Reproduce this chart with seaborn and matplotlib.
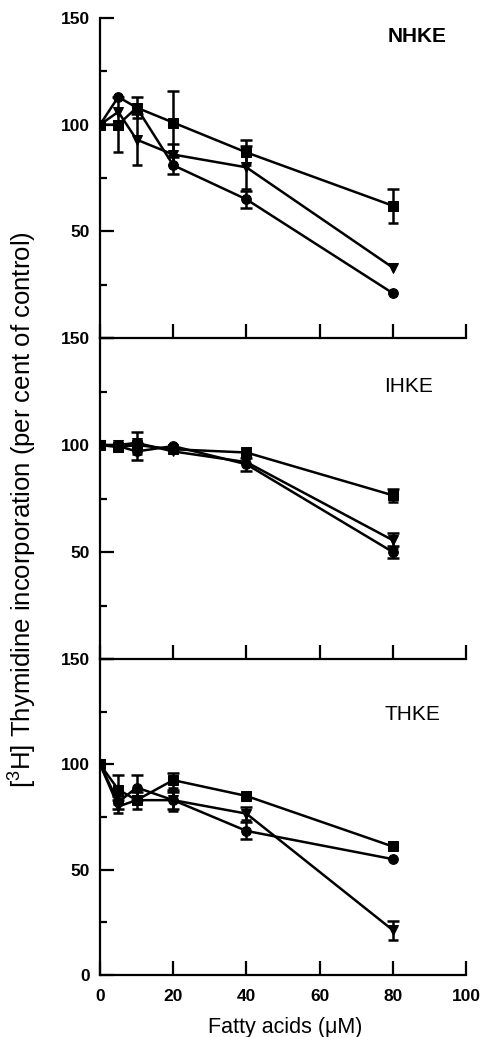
import numpy as np
import pandas as pd
import matplotlib
matplotlib.use("Agg")
import matplotlib.pyplot as plt
import seaborn as sns

# ---------------- data ----------------
conc = [0, 5, 10, 20, 40, 80]
panels = ["NHKE", "IHKE", "THKE"]
series_names = ["square", "tri", "circle"]

nhke_square = [100, 100, 108, 101, 87, 62]
nhke_square_err = [0, 13, 5, 15, 6, 8]
nhke_tri = [100, 106, 93, 86, 80, 33]
nhke_tri_err = [0, 0, 12, 5, 10, 0]
nhke_circle = [100, 113, 108, 81, 65, 21]
nhke_circle_err = [0, 0, 0, 4, 4, 0]

ihke_square = [100, 99, 100, 98, 96.5, 76.5]
ihke_square_err = [0, 0, 0, 0, 0, 3]
ihke_tri = [100, 100, 101, 97, 92, 55.5]
ihke_tri_err = [0, 0, 5, 0, 0, 3.5]
ihke_circle = [100, 99.5, 97, 99.5, 91, 50]
ihke_circle_err = [0, 0, 4, 0, 3, 3]

thke_square = [100, 88, 83, 92.5, 85, 61]
thke_square_err = [0, 7, 0, 3.5, 0, 0]
thke_tri = [100, 80, 83, 83, 76.6, 21.3]
thke_tri_err = [0, 3, 4, 5, 3, 4.5]
thke_circle = [100, 82, 89, 83, 68.4, 55]
thke_circle_err = [0, 3, 6, 4, 4, 0]

xticks = [0, 20, 40, 60, 80, 100]
yticks_major = [0, 50, 100, 150]
yticks_minor = [25, 75, 125]
ylabel = "[$^{3}$H] Thymidine incorporation (per cent of control)"
xlabel = "Fatty acids (\u03bcM)"

data = {
    "NHKE": [(nhke_square, nhke_square_err), (nhke_tri, nhke_tri_err), (nhke_circle, nhke_circle_err)],
    "IHKE": [(ihke_square, ihke_square_err), (ihke_tri, ihke_tri_err), (ihke_circle, ihke_circle_err)],
    "THKE": [(thke_square, thke_square_err), (thke_tri, thke_tri_err), (thke_circle, thke_circle_err)],
}

# ---------------- style ----------------
sns.set_theme(style="ticks")
plt.rcParams["font.family"] = ["Liberation Sans", "DejaVu Sans"]
plt.rcParams["text.color"] = "black"
plt.rcParams["mathtext.fontset"] = "custom"
plt.rcParams["mathtext.rm"] = "Liberation Sans"

W, H = 481, 1037
fig = plt.figure(figsize=(W / 100, H / 100), dpi=100)

left = 100 / W
right = 466 / W
bounds = [(18, 338), (338, 659), (659, 975)]
markers = {"square": "s", "tri": "v", "circle": "o"}
msizes = {"square": 6.5, "tri": 8.5, "circle": 7.5}

for i, (name, (ytop, ybot)) in enumerate(zip(panels, bounds)):
    ax = fig.add_axes([left, 1 - ybot / H, right - left, (ybot - ytop) / H])
    ax.set_facecolor("none")
    rows = []
    for sname, (vals, errs) in zip(series_names, data[name]):
        for x, v, e in zip(conc, vals, errs):
            rows.append({"x": x, "y": v, "err": e, "series": sname})
    df = pd.DataFrame(rows)
    for sname in series_names:
        d = df[(df.series == sname) & (df.err > 0)]
        ax.errorbar(d.x, d.y, yerr=d.err, fmt="none", ecolor="black",
                    elinewidth=1.8, capsize=4, capthick=1.8, zorder=2)
    sns.lineplot(data=df, x="x", y="y", hue="series", style="series",
                 markers=markers, dashes=False, palette=["black"] * 3,
                 linewidth=1.8, markersize=7, markeredgecolor="black",
                 legend=False, ax=ax, zorder=3)
    for line, sname in zip(ax.get_lines(), series_names):
        line.set_markersize(msizes[sname])
        line.set_clip_on(False)

    ax.set_xlim(0, 100)
    ax.set_ylim(0, 150)
    ax.set_xticks(xticks)
    ax.set_yticks(yticks_major)
    ax.set_yticks(yticks_minor, minor=True)
    if i < 2:
        ax.set_yticklabels(["", "50", "100", "150"])
        ax.set_xticklabels([])
    else:
        ax.set_yticklabels(["0", "50", "100", "150"])
        ax.set_xticklabels([str(t) for t in xticks])
    for lab in ax.get_yticklabels() + ax.get_xticklabels():
        lab.set_fontweight("bold")
        lab.set_fontsize(12.5)
        lab.set_color("black")
    ax.tick_params(axis="y", which="major", direction="in", length=10, width=1.6, pad=7, colors="black")
    ax.tick_params(axis="y", which="minor", direction="in", length=5, width=1.6, colors="black")
    ax.tick_params(axis="x", which="major", direction="in", length=10, width=1.6, pad=10, colors="black")
    ax.set_xlabel("")
    ax.set_ylabel("")
    sns.despine(ax=ax, top=True, right=True)
    for s in ["left", "bottom"]:
        ax.spines[s].set_linewidth(1.6)
        ax.spines[s].set_color("black")

label_pos = {"NHKE": (417, 36), "IHKE": (409, 387), "THKE": (412, 714)}
for name in panels:
    px, py = label_pos[name]
    fig.text(px / W, 1 - py / H, name, ha="center", va="center", color="black",
             fontsize=15, fontweight="bold" if name == "NHKE" else "medium")

fig.text(22 / W, 1 - 510 / H, ylabel, rotation=90, ha="center", va="center",
         fontsize=18.5, color="black")
fig.text(285 / W, 1 - 1027 / H, xlabel, ha="center", va="center",
         fontsize=15.5, color="black")

fig.savefig("out.png", dpi=100)
